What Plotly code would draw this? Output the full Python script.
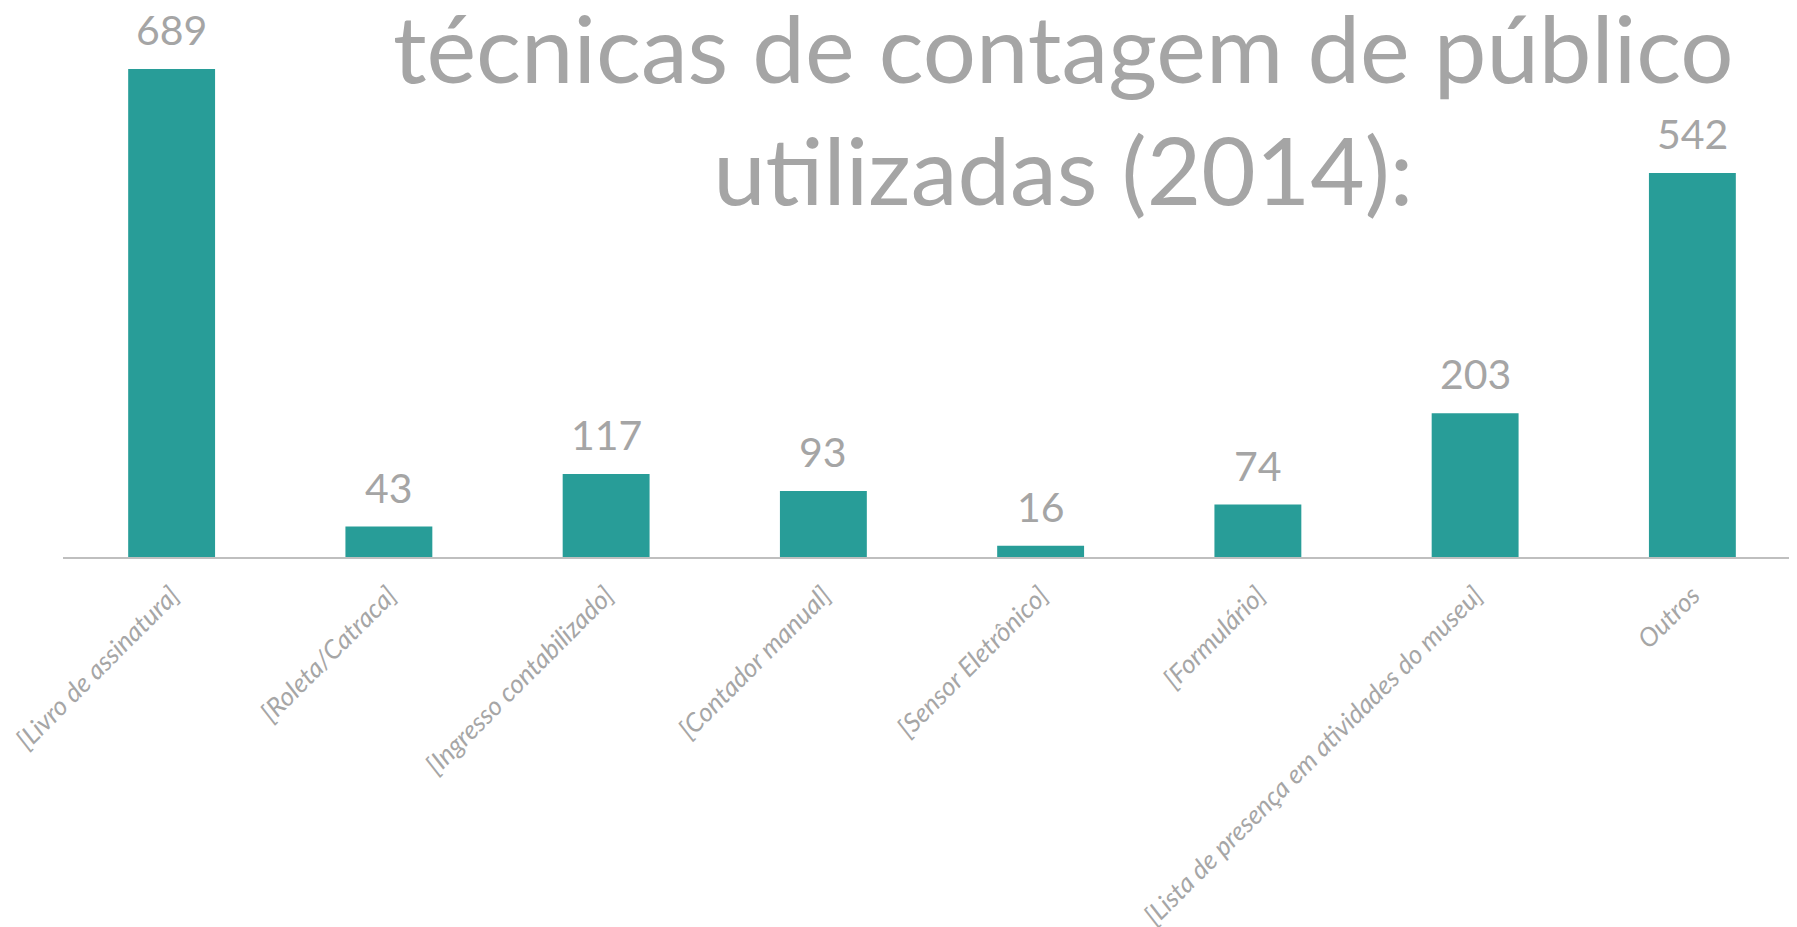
import plotly.graph_objects as go

categories = [
    "[Livro de assinatura]",
    "[Roleta/Catraca]",
    "[Ingresso contabilizado]",
    "[Contador manual]",
    "[Sensor Eletrônico]",
    "[Formulário]",
    "[Lista de presença em atividades do museu]",
    "Outros",
]
values = [689, 43, 117, 93, 16, 74, 203, 542]
title_lines = ["técnicas de contagem de público", "utilizadas (2014):"]

BAR = "#289D98"
GRAY = "#A5A5A5"
FONT = "Lato, 'Open Sans', sans-serif"

fig = go.Figure(
    go.Bar(
        x=categories,
        y=values,
        marker=dict(color=BAR, line=dict(width=0)),
        width=0.4,
        showlegend=False,
    )
)

annotations = [
    dict(
        x=c, y=v, xref="x", yref="y", text=str(v), showarrow=False,
        yanchor="bottom", yshift=13,
        font=dict(family=FONT, size=41, color=GRAY),
    )
    for c, v in zip(categories, values)
]
annotations.append(
    dict(
        x=(1055 - 55) / 1738, y=1.0, xref="paper", yref="paper",
        xanchor="center", yanchor="top", yshift=20,
        text="<br>".join(title_lines), showarrow=False, align="center",
        font=dict(family=FONT, size=94, color=GRAY),
    )
)

fig.update_layout(
    width=1797,
    height=927,
    margin=dict(l=55, r=4, t=0, b=378),
    paper_bgcolor="white",
    plot_bgcolor="white",
    annotations=annotations,
    xaxis=dict(
        range=[-0.5, 7.5],
        tickangle=-45,
        tickfont=dict(family=FONT, size=26, color="#A6A6A6", style="italic"),
        showline=True, linecolor="#BFBFBF", linewidth=2,
        ticks="", showgrid=False, ticklabelstandoff=11,
    ),
    yaxis=dict(
        range=[0, 775],
        visible=False, showgrid=False, zeroline=False,
    ),
)

fig.write_html("out.html")
